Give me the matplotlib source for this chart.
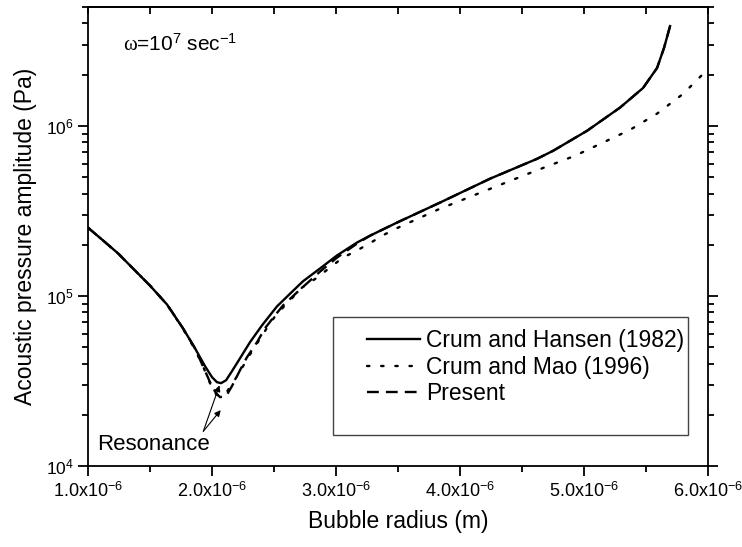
import numpy as np
import matplotlib
matplotlib.use("Agg")
import matplotlib.pyplot as plt
from matplotlib.ticker import FuncFormatter, LogLocator, MultipleLocator, NullFormatter
from matplotlib.patches import Rectangle

plt.rcParams['font.family'] = ['Liberation Sans', 'DejaVu Sans']
plt.rcParams['mathtext.fontset'] = 'custom'
plt.rcParams['mathtext.rm'] = 'Liberation Sans'
plt.rcParams['mathtext.it'] = 'Liberation Serif'

# bubble radius in units of 1e-6 m, pressure amplitude in Pa
r_hansen = [1.000, 1.121, 1.242, 1.363, 1.500, 1.637, 1.766, 1.863, 1.944, 2.000,
            2.040, 2.073, 2.113, 2.161, 2.226, 2.306, 2.403, 2.524, 2.629, 2.734,
            2.871, 3.008, 3.169, 3.274, 3.492, 3.839, 4.242, 4.621, 4.750, 5.024,
            5.290, 5.476, 5.589, 5.645, 5.694]
p_hansen = [2.52e5, 2.12e5, 1.78e5, 1.45e5, 1.15e5, 8.91e4, 6.45e4, 4.92e4, 3.86e4, 3.33e4,
            3.11e4, 3.07e4, 3.19e4, 3.61e4, 4.30e4, 5.34e4, 6.71e4, 8.68e4, 1.03e5, 1.22e5,
            1.45e5, 1.73e5, 2.06e5, 2.26e5, 2.70e5, 3.54e5, 4.89e5, 6.40e5, 7.13e5, 9.35e5,
            1.28e6, 1.67e6, 2.19e6, 2.87e6, 3.86e6]

r_mao = [1.000, 1.121, 1.242, 1.363, 1.500, 1.637, 1.766, 1.863, 1.927, 1.984,
         2.032, 2.073, 2.121, 2.177, 2.240, 2.300, 2.370, 2.450, 2.520, 2.613,
         2.726, 2.847, 2.952, 3.056, 3.169, 3.282, 3.387, 3.500, 3.823, 4.266,
         4.589, 4.927, 5.371, 5.589, 5.798, 5.911, 6.000]
p_mao = [2.52e5, 2.12e5, 1.78e5, 1.45e5, 1.15e5, 8.91e4, 6.40e4, 4.85e4, 3.86e4, 3.07e4,
         2.64e4, 2.57e4, 2.74e4, 3.15e4, 3.75e4, 4.45e4, 5.35e4, 6.60e4, 7.80e4, 9.16e4,
         1.12e5, 1.28e5, 1.47e5, 1.68e5, 1.85e5, 2.06e5, 2.29e5, 2.52e5, 3.22e5, 4.33e5,
         5.37e5, 6.67e5, 9.48e5, 1.18e6, 1.54e6, 1.86e6, 2.16e6]

r_present = [1.000, 1.121, 1.242, 1.363, 1.500, 1.637, 1.766, 1.863, 1.927, 1.984,
             2.032, 2.065, 2.113, 2.161, 2.226, 2.282, 2.363, 2.427, 2.508, 2.573,
             2.710, 2.871, 3.008, 3.169, 3.274, 3.492, 3.839, 4.242, 4.621, 4.750,
             5.024, 5.290, 5.476, 5.589, 5.645, 5.694]
p_present = [2.52e5, 2.12e5, 1.78e5, 1.45e5, 1.15e5, 8.91e4, 6.45e4, 4.92e4, 3.86e4, 3.11e4,
             2.68e4, 2.54e4, 2.57e4, 2.95e4, 3.66e4, 4.36e4, 5.34e4, 6.45e4, 7.68e4, 8.80e4,
             1.09e5, 1.39e5, 1.68e5, 2.03e5, 2.26e5, 2.70e5, 3.54e5, 4.89e5, 6.40e5, 7.13e5,
             9.35e5, 1.28e6, 1.67e6, 2.19e6, 2.87e6, 3.86e6]

labels = ["Crum and Hansen (1982)", "Crum and Mao (1996)", "Present"]

fig = plt.figure(figsize=(7.42, 5.47), dpi=100)
ax = fig.add_axes([0.1186, 0.1481, 0.8356, 0.8391])

ax.plot(np.array(r_hansen) * 1e-6, p_hansen, color='black', lw=1.7, label=labels[0])
ax.plot(np.array(r_mao) * 1e-6, p_mao, color='black', lw=1.7,
        linestyle=(0, (1, 5)), dash_capstyle='round', label=labels[1])
ax.plot(np.array(r_present) * 1e-6, p_present, color='black', lw=1.7,
        linestyle=(0, (5, 3)), label=labels[2])

ax.set_yscale('log')
ax.set_xlim(1e-6, 6e-6)
ax.set_ylim(1e4, 5e6)

ax.xaxis.set_major_locator(MultipleLocator(1e-6))
ax.xaxis.set_minor_locator(MultipleLocator(0.5e-6))
ax.xaxis.set_major_formatter(FuncFormatter(lambda v, p: r'%.1fx10$^{-6}$' % (v * 1e6)))
ax.yaxis.set_major_locator(LogLocator(base=10, numticks=10))
ax.yaxis.set_minor_locator(LogLocator(base=10, subs=np.arange(2, 10), numticks=10))
ax.yaxis.set_minor_formatter(NullFormatter())

ax.tick_params(axis='x', which='major', direction='out', length=7, width=1.3,
               labelsize=13, top=False, pad=4)
ax.tick_params(axis='x', which='minor', direction='out', length=4, width=1.3, top=False)
ax.tick_params(axis='y', which='major', direction='out', length=7, width=1.3,
               labelsize=12.5, right=True)
ax.tick_params(axis='y', which='minor', direction='out', length=4, width=1.3, right=True)

top = ax.secondary_xaxis('top')
top.xaxis.set_major_locator(MultipleLocator(0.5e-6))
top.xaxis.set_major_formatter(NullFormatter())
top.tick_params(direction='in', length=5, width=1.3)

for sp in ax.spines.values():
    sp.set_linewidth(1.3)
top.spines['top'].set_linewidth(1.3)

ax.set_xlabel("Bubble radius (m)", fontsize=16.5, labelpad=7)
ax.set_ylabel("Acoustic pressure amplitude (Pa)", fontsize=16.5, labelpad=6)

ax.text(0.056, 0.919, r'$\omega$=10$^{7}$ sec$^{-1}$', transform=ax.transAxes,
        fontsize=15, va='center', ha='left')

ax.text(0.0145, 0.046, "Resonance", transform=ax.transAxes, fontsize=16,
        va='center', ha='left')
for tip in [(2.06e-6, 2.98e4), (2.07e-6, 2.13e4)]:
    ax.annotate('', xy=tip, xytext=(1.93e-6, 1.6e4),
                arrowprops=dict(arrowstyle='-|>', lw=0.8, color='black',
                                mutation_scale=9, shrinkA=0, shrinkB=0))

ax.add_patch(Rectangle((0.395, 0.0675), 0.573, 0.257, transform=ax.transAxes,
                       fill=False, lw=1.0, edgecolor='#444444', zorder=3))
ax.legend(loc='upper left', bbox_to_anchor=(0.435, 0.318), frameon=False,
          fontsize=16.5, handlelength=2.3, handletextpad=0.3, labelspacing=0.15,
          borderaxespad=0)

fig.savefig("out.png", dpi=100)
